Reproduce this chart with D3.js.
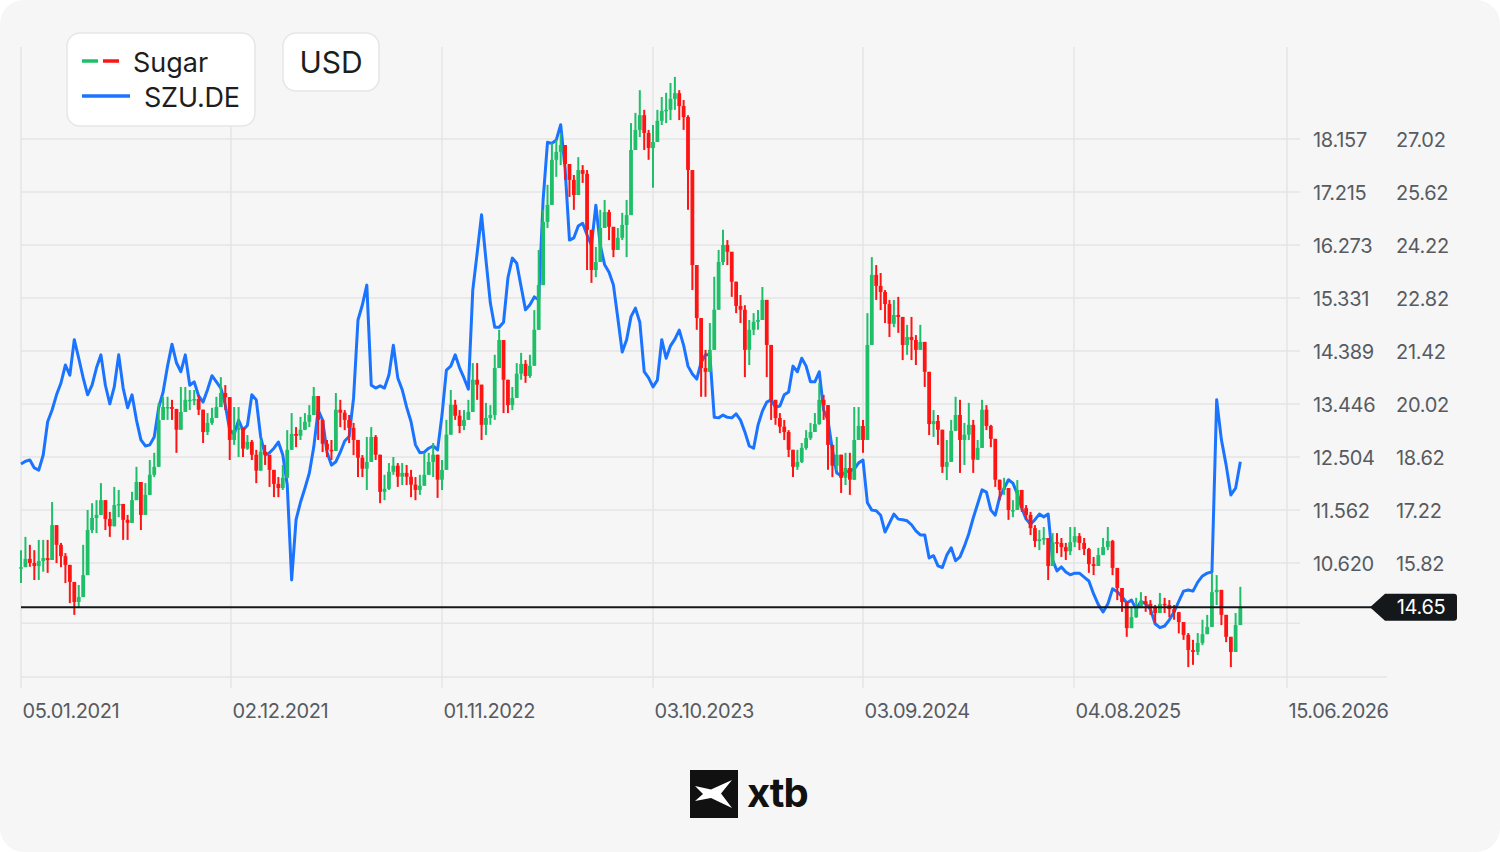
<!DOCTYPE html>
<html><head><meta charset="utf-8">
<script src="https://cdn.jsdelivr.net/npm/d3@7"></script>
<style>
html,body{margin:0;padding:0;background:#ffffff;}
svg{display:block;font-family:Inter,"Noto Sans",sans-serif;}
</style></head><body>
<svg id="chart" width="1500" height="852"></svg>
<script>
// ---------------- DATA ----------------
const startDate = "2021-01-05";           // first weekly bar
const sugarClose = [
15.71,15.93,15.82,15.74,15.87,15.95,15.90,16.82,16.30,16.00,
15.77,15.32,14.79,14.92,15.50,16.69,17.01,17.09,17.48,16.98,
16.79,17.35,17.38,16.96,16.88,17.48,17.96,17.09,17.62,18.15,
18.36,19.60,19.94,19.94,19.89,19.34,19.81,20.13,20.13,20.15,
19.87,19.28,19.52,19.65,19.94,20.31,20.20,19.07,19.34,19.39,
18.84,19.02,18.68,18.26,18.76,18.68,18.28,17.91,17.80,18.07,
18.81,19.23,19.18,19.34,19.55,19.73,20.23,19.60,18.97,18.81,
18.78,19.87,19.79,19.60,19.39,19.07,18.60,18.31,18.49,19.15,
18.68,17.70,17.78,18.23,18.39,18.10,18.20,18.10,17.89,17.75,
17.86,18.15,18.49,18.68,18.02,18.28,19.21,20.00,19.71,19.44,
19.60,19.81,20.66,20.53,19.47,19.65,19.73,20.97,21.71,20.66,
19.99,20.18,20.82,21.08,20.76,21.03,21.98,23.16,24.83,25.28,
26.47,26.68,26.86,26.36,25.94,25.54,26.20,26.10,24.62,23.56,
23.77,24.67,25.09,24.70,24.09,24.41,24.75,25.01,26.73,27.26,
27.65,27.18,26.78,26.94,27.50,27.76,27.79,28.08,28.23,27.89,
27.60,26.20,23.69,22.29,20.97,20.87,21.45,22.51,23.77,24.22,
24.04,23.25,22.61,22.51,21.45,21.98,22.19,22.24,22.77,21.58,
20.13,19.65,19.42,19.28,18.81,18.36,18.49,18.86,19.12,19.28,
19.49,20.13,19.99,18.94,18.39,18.68,18.07,18.33,18.02,19.07,
19.44,19.07,21.58,23.43,23.14,22.98,22.66,22.14,22.37,22.32,
21.58,21.79,21.71,21.45,21.66,20.87,19.49,19.57,19.34,18.36,
18.49,19.31,19.73,19.07,19.21,19.47,18.55,18.86,19.87,19.44,
19.10,18.02,17.75,17.80,17.22,17.22,17.75,17.27,17.09,16.74,
16.40,16.45,16.48,15.74,16.37,16.35,16.24,16.13,16.37,16.53,
16.35,16.19,15.79,15.74,16.03,16.24,16.40,15.69,15.16,14.79,
14.10,14.39,14.63,14.81,14.74,14.63,14.50,14.74,14.71,14.60,
14.52,14.26,13.92,13.52,13.47,13.71,13.94,14.13,15.05,15.11,
14.45,13.87,13.47,14.18,14.65];
const sugarHigh = [
16.16,16.51,16.30,16.16,16.43,16.43,16.43,17.43,16.82,16.35,
16.08,15.71,15.19,15.24,16.30,17.22,17.40,17.48,17.93,17.48,
17.17,17.83,17.75,17.35,17.09,17.70,18.36,17.75,17.93,18.54,
18.73,20.05,20.21,20.21,20.13,19.86,20.47,20.47,20.39,20.39,
20.26,19.86,19.78,19.92,20.21,20.73,20.52,19.99,19.94,19.94,
19.07,19.20,19.07,18.81,19.07,18.94,18.67,18.28,18.09,18.41,
19.33,19.78,19.41,19.68,19.78,19.99,20.47,20.21,19.33,19.07,
19.07,20.31,20.13,19.86,19.73,19.52,19.07,18.67,19.15,19.41,
19.20,18.54,18.15,18.46,18.62,18.46,18.46,18.41,18.28,18.09,
18.15,18.73,18.73,18.99,18.36,18.54,19.60,20.39,20.13,19.86,
19.86,20.13,21.10,21.10,20.13,20.05,19.99,21.32,21.98,21.71,
20.39,20.47,21.10,21.37,21.18,21.32,22.50,24.09,25.15,25.81,
26.91,26.99,27.18,26.81,26.33,26.07,26.54,26.33,26.20,24.09,
24.17,25.15,25.41,25.15,24.48,24.67,25.07,25.41,27.44,27.71,
28.31,27.79,27.26,27.39,27.79,28.13,28.24,28.50,28.66,28.31,
28.05,27.65,25.15,23.16,21.98,21.45,22.16,23.38,24.09,24.62,
24.35,23.96,23.16,22.90,22.63,22.24,22.42,22.50,23.11,22.77,
20.92,19.99,19.78,19.60,19.33,18.81,18.81,18.99,19.33,19.52,
19.78,20.58,20.26,19.86,18.73,19.15,18.67,18.73,18.73,19.94,
19.94,19.60,22.42,23.90,23.69,23.48,23.03,22.77,22.77,22.85,
22.24,22.11,22.32,21.84,22.11,21.58,20.52,19.86,19.73,19.07,
19.07,19.60,20.21,20.13,19.52,20.05,19.60,19.07,20.13,19.99,
19.47,19.07,18.01,18.07,17.75,17.48,18.01,17.75,17.35,17.17,
16.82,16.69,16.77,16.43,16.61,16.61,16.48,16.35,16.77,16.77,
16.61,16.48,16.22,15.98,16.22,16.48,16.77,16.43,15.64,14.97,
14.71,14.63,14.90,15.05,14.95,14.84,14.71,15.03,14.90,14.84,
14.71,14.53,14.18,13.97,13.79,13.97,14.32,14.45,15.56,15.50,
15.11,14.32,13.79,14.50,15.19];
const sugarLow = [
15.29,15.72,15.72,15.37,15.37,15.59,15.56,16.35,15.82,15.71,
15.29,14.76,14.45,14.63,15.11,16.08,16.61,16.61,17.09,16.69,
16.51,17.09,17.03,16.43,16.43,16.90,17.62,16.69,17.22,17.88,
18.09,18.67,19.73,19.60,19.60,18.73,19.47,19.86,19.86,19.99,
19.73,18.99,19.20,19.47,19.73,19.99,19.86,18.54,18.94,18.62,
18.62,18.81,18.54,17.93,18.28,18.41,17.83,17.56,17.56,17.75,
18.15,18.88,18.88,19.07,19.33,19.41,19.86,19.07,18.75,18.62,
18.54,19.07,19.41,19.33,18.99,18.67,18.09,18.09,17.75,18.81,
18.54,17.40,17.48,17.75,18.15,17.83,17.88,17.88,17.56,17.48,
17.62,17.88,18.28,18.09,17.54,17.75,18.41,19.33,19.60,19.25,
19.33,19.60,19.86,20.13,19.07,19.20,19.47,19.60,21.05,19.78,
19.78,19.86,20.26,20.66,20.58,20.71,21.05,22.24,23.82,24.67,
25.41,26.02,26.33,25.94,25.49,25.15,25.67,25.86,23.56,23.22,
23.37,23.90,24.75,24.35,23.90,24.09,24.35,23.90,25.49,26.73,
27.07,26.73,26.47,25.73,27.07,27.39,27.44,27.52,27.79,27.52,
27.26,25.15,23.03,21.98,20.21,20.21,21.05,21.84,22.77,23.69,
23.69,22.85,22.42,22.16,20.73,21.05,21.84,21.98,22.24,20.73,
19.60,19.47,19.25,19.07,18.62,18.09,18.28,18.46,18.81,19.07,
19.28,19.47,19.60,18.28,18.09,18.28,17.67,17.88,17.62,18.01,
19.07,18.73,19.07,22.24,22.77,22.50,22.16,21.79,22.05,21.90,
21.18,21.32,21.18,21.05,21.45,20.47,19.20,19.15,18.94,18.20,
18.01,18.94,19.41,18.20,18.41,19.07,18.20,18.54,18.94,19.33,
18.88,17.83,17.48,17.62,16.96,17.03,17.22,17.17,16.96,16.56,
16.24,16.16,16.30,15.37,15.90,16.08,15.98,15.90,16.03,16.24,
16.16,16.03,15.56,15.50,15.77,16.08,16.16,15.50,14.84,14.53,
13.87,14.10,14.37,14.66,14.53,14.45,14.24,14.53,14.50,14.39,
14.32,13.96,13.79,13.07,13.13,13.39,13.65,13.97,14.18,14.71,
14.18,13.73,13.07,13.60,14.24];
const szuClose = [
12.38,12.43,12.45,12.31,12.27,12.54,13.13,13.34,13.61,13.82,
14.14,13.96,14.59,14.26,13.91,13.61,13.78,14.09,14.32,13.78,
13.45,13.75,14.32,13.73,13.38,13.61,13.16,12.81,12.70,12.72,
12.86,13.38,13.66,14.12,14.51,14.18,14.02,14.32,13.78,13.84,
13.59,13.48,13.70,13.95,13.84,13.73,13.43,12.98,12.91,13.16,
12.98,13.07,13.61,13.52,12.86,12.54,12.58,12.66,12.77,12.54,
12.01,10.32,11.39,11.70,11.95,12.22,12.68,13.34,13.16,12.59,
12.36,12.42,12.59,12.79,12.87,13.55,14.94,15.21,15.56,13.78,
13.73,13.77,13.73,13.96,14.49,13.91,13.70,13.39,13.13,12.72,
12.58,12.59,12.66,12.70,12.63,13.25,14.05,14.12,14.32,14.09,
13.91,13.71,15.47,16.13,16.81,16.01,15.24,14.81,14.81,14.90,
15.69,16.04,15.95,15.53,15.12,15.21,15.35,15.30,17.07,18.10,
18.08,18.14,18.41,17.63,16.36,16.40,16.61,16.66,16.45,16.27,
16.98,16.27,15.92,15.79,15.56,14.97,14.37,14.59,15.00,15.15,
14.90,14.02,13.91,13.75,13.87,14.59,14.26,14.48,14.60,14.76,
14.49,14.12,13.98,13.89,14.19,14.32,14.32,13.21,13.20,13.25,
13.21,13.20,13.27,13.16,12.95,12.70,12.66,13.07,13.32,13.48,
13.52,13.39,13.41,13.61,13.66,14.12,14.02,14.26,14.12,13.84,
13.84,14.02,13.34,13.16,12.63,12.22,12.17,12.24,12.26,12.29,
12.40,12.45,11.69,11.56,11.55,11.47,11.17,11.33,11.49,11.40,
11.39,11.37,11.30,11.19,11.12,11.12,10.71,10.75,10.57,10.54,
10.76,10.89,10.66,10.73,10.92,11.14,11.42,11.67,11.92,11.88,
11.56,11.47,11.79,11.95,12.10,12.04,11.85,11.60,11.40,11.31,
11.39,11.49,11.44,11.49,10.67,10.48,10.55,10.46,10.41,10.44,
10.44,10.37,10.30,10.07,9.88,9.75,9.89,10.16,10.11,10.02,
9.91,9.96,9.80,9.94,9.89,9.80,9.54,9.47,9.50,9.61,
9.75,9.94,10.12,10.14,10.12,10.28,10.39,10.44,10.46,13.52,
12.81,12.36,11.83,11.95,12.42];
const dateTicks = ["2021-01-05","2021-12-02","2022-11-01","2023-10-03","2024-09-03","2025-08-04","2026-06-15"];
const szuTicks = [18.157,17.215,16.273,15.331,14.389,13.446,12.504,11.562,10.620];
const sugarTicks = [27.02,25.62,24.22,22.82,21.42,20.02,18.62,17.22,15.82];
const szuGridExtra = [9.55];
const lastPrice = 14.65;
const seriesNames = ["Sugar","SZU.DE"];
const currencyLabel = "USD";

// ---------------- SCALES ----------------
const parse = d3.utcParse("%Y-%m-%d");
const fmt = d3.utcFormat("%d.%m.%Y");
const t0 = parse(startDate);
const dates = sugarClose.map((_, i) => d3.utcDay.offset(t0, 7 * i));

const x = d3.scaleUtc().domain(dateTicks.map(parse)).range([21, 231, 442, 653, 863, 1074, 1287]);
const ySzu = d3.scaleLinear().domain([9.678, 18.157]).range([616, 139]);
const ySugar = d3.scaleLinear().domain([14.42, 27.02]).range([616, 139]);

const GREEN = "#1fbf69", RED = "#ff1414", BLUE = "#1a74ff";
const svg = d3.select("#chart");

// card background
svg.append("rect").attr("x", 0).attr("y", 0).attr("width", 1500).attr("height", 852)
  .attr("rx", 24).attr("fill", "#f6f6f6");

// ---------------- GRID ----------------
const grid = svg.append("g").attr("stroke", "#e5e5e5").attr("stroke-width", 1.5);
grid.selectAll("line.h").data(szuTicks.concat(szuGridExtra)).join("line")
  .attr("x1", 21).attr("x2", 1300)
  .attr("y1", d => ySzu(d)).attr("y2", d => ySzu(d));
grid.selectAll("line.v").data(dateTicks.map(parse)).join("line")
  .attr("x1", d => x(d)).attr("x2", d => x(d))
  .attr("y1", 47).attr("y2", 688);
grid.append("line").attr("x1", 21).attr("x2", 1387).attr("y1", 677).attr("y2", 677);

// x axis labels
const xAxis = d3.axisBottom(x).tickValues(dateTicks.map(parse)).tickFormat(fmt).tickSize(0).tickPadding(0);
const gx = svg.append("g").attr("transform", "translate(0,718)").call(xAxis);
gx.select(".domain").remove();
gx.selectAll("text").attr("text-anchor", "start").attr("dy", 0).attr("dx", 1)
  .attr("fill", "#575b61").style("font-size", "20px").style("letter-spacing", "-0.45px")
  .style("font-family", "Inter, sans-serif");

// right axes
function rightAxis(scale, ticks, xpos, format) {
  const ax = d3.axisRight(scale).tickValues(ticks).tickFormat(format).tickSize(0).tickPadding(0);
  const g = svg.append("g").attr("transform", `translate(${xpos},1)`).call(ax);
  g.select(".domain").remove();
  g.selectAll("text").attr("fill", "#575b61").style("font-size", "20px")
    .style("letter-spacing", "-0.3px").style("font-family", "Inter, sans-serif");
}
rightAxis(ySzu, szuTicks, 1313, d3.format(".3f"));
rightAxis(ySugar, sugarTicks, 1396, d3.format(".2f"));

// ---------------- SERIES ----------------
const szuData = szuClose.map((v, i) => ({ date: dates[i], v }));
svg.append("path").datum(szuData)
  .attr("fill", "none").attr("stroke", BLUE).attr("stroke-width", 3)
  .attr("stroke-linejoin", "round")
  .attr("d", d3.line().x(d => x(d.date)).y(d => ySzu(d.v)));

const candles = sugarClose.map((c, i) => {
  const open = i ? sugarClose[i - 1] : c;
  return { date: dates[i], open, close: c,
           high: Math.max(sugarHigh[i], open, c), low: Math.min(sugarLow[i], open, c) };
});
const cg = svg.append("g");
cg.selectAll("line").data(candles).join("line")
  .attr("x1", d => x(d.date)).attr("x2", d => x(d.date))
  .attr("y1", d => ySugar(d.high)).attr("y2", d => ySugar(d.low))
  .attr("stroke", d => d.close >= d.open ? GREEN : RED).attr("stroke-width", 2);
cg.selectAll("rect").data(candles).join("rect")
  .attr("x", d => x(d.date) - 1.9)
  .attr("width", 3.8)
  .attr("y", d => ySugar(Math.max(d.open, d.close)))
  .attr("height", d => Math.max(1.5, Math.abs(ySugar(d.open) - ySugar(d.close))))
  .attr("fill", d => d.close >= d.open ? GREEN : RED);

// ---------------- LAST PRICE ----------------
const py = ySugar(lastPrice);
svg.append("line").attr("x1", 21).attr("x2", 1372).attr("y1", py).attr("y2", py)
  .attr("stroke", "#15181b").attr("stroke-width", 2);
svg.append("path")
  .attr("d", `M1370,${py} L1385,${py - 13.5} L1454,${py - 13.5} Q1457,${py - 13.5} 1457,${py - 10.5} L1457,${py + 10.5} Q1457,${py + 13.5} 1454,${py + 13.5} L1385,${py + 13.5} Z`)
  .attr("fill", "#15181b");
svg.append("text").attr("x", 1421).attr("y", py + 7).attr("text-anchor", "middle")
  .attr("fill", "#fff").style("font-size", "20px").style("letter-spacing", "-0.3px")
  .text(d3.format(".2f")(lastPrice));

// ---------------- LEGEND ----------------
svg.append("rect").attr("x", 67).attr("y", 33).attr("width", 188).attr("height", 93)
  .attr("rx", 13).attr("fill", "#fff").attr("stroke", "#e6e6e6").attr("stroke-width", 1.5);
svg.append("line").attr("x1", 82).attr("x2", 98).attr("y1", 61).attr("y2", 61).attr("stroke", GREEN).attr("stroke-width", 3.5);
svg.append("line").attr("x1", 103).attr("x2", 119).attr("y1", 61).attr("y2", 61).attr("stroke", RED).attr("stroke-width", 3.5);
svg.append("line").attr("x1", 82).attr("x2", 130).attr("y1", 96).attr("y2", 96).attr("stroke", BLUE).attr("stroke-width", 3.5);
svg.append("text").attr("x", 133).attr("y", 72).attr("fill", "#1d1e20")
  .style("font-size", "27px").style("letter-spacing", "0px").text(seriesNames[0]);
svg.append("text").attr("x", 144).attr("y", 107).attr("fill", "#1d1e20")
  .style("font-size", "27px").style("letter-spacing", "-0.2px").text(seriesNames[1]);

svg.append("rect").attr("x", 283).attr("y", 33).attr("width", 96).attr("height", 58)
  .attr("rx", 13).attr("fill", "#fff").attr("stroke", "#e6e6e6").attr("stroke-width", 1.5);
svg.append("text").attr("x", 331).attr("y", 73).attr("text-anchor", "middle").attr("fill", "#1d1e20")
  .style("font-size", "30px").style("letter-spacing", "0px").text(currencyLabel);

// ---------------- LOGO ----------------
const logo = svg.append("g").attr("transform", "translate(690,770)");
logo.append("rect").attr("width", 48).attr("height", 48).attr("fill", "#111");
logo.append("path").attr("d", "M5,16 L21,19.5 L42,10 L31,23.5 L42,38 L21,28 L5,31 L13,24 Z").attr("fill", "#fff");
svg.append("text").attr("x", 747).attr("y", 807).attr("fill", "#111")
  .style("font-size", "40px").style("font-weight", "700").style("letter-spacing", "-1px").text("xtb");
</script>
</body></html>
